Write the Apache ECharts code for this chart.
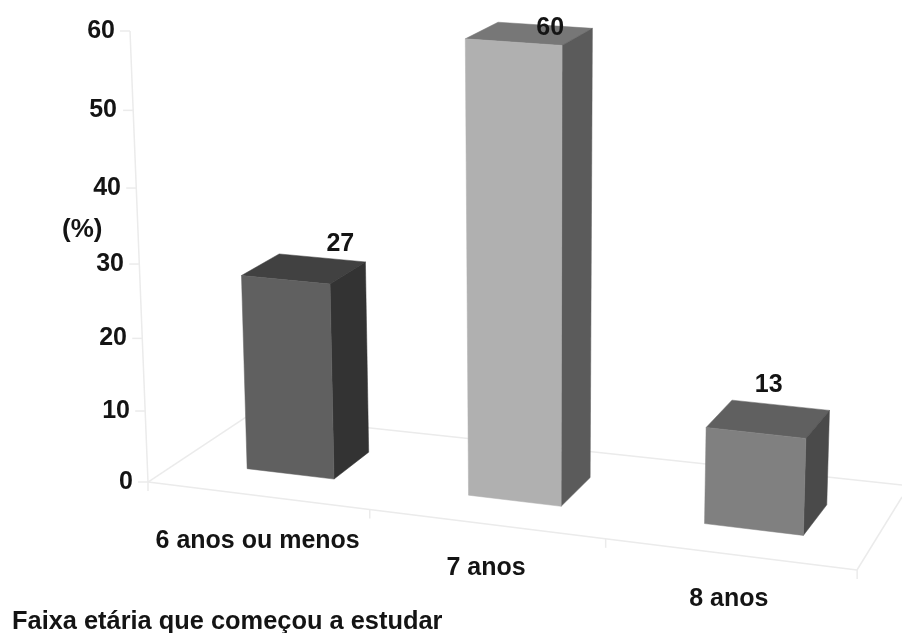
<!DOCTYPE html>
<html>
<head>
<meta charset="utf-8">
<style>html,body{margin:0;padding:0;background:#fff}#chart{width:902px;height:633px}</style>
<script src="https://cdn.jsdelivr.net/npm/echarts@6/dist/echarts.min.js"></script>
</head>
<body>
<div id="chart"></div>
<script>
// Chart content
const categories = ['6 anos ou menos', '7 anos', '8 anos'];
const percentages = [27, 60, 13];
const yTicks = [0, 10, 20, 30, 40, 50, 60];
const yUnit = '(%)';
const heading = 'Faixa etária que começou a estudar';

// Bar shading: front, side, top
const barShades = [
  ['#606060', '#333333', '#414141'],
  ['#b0b0b0', '#5b5b5b', '#777777'],
  ['#808080', '#4a4a4a', '#606060']
];
// Value label displacement from the middle of each bar's rear top edge
const labelShift = [[18, -14], [5, 3], [-12, -20]];
// Room for the slanted tick labels and staggered category labels
const yLabelPad = [0, 3, 6, 9, 12, 16, 18];
const xLabelPad = [[0, 17], [54, 33], [116, 20]];

const GRID = { left: 148, right: 857, top: 31, bottom: 482 };
const FRAME_COLOR = '#ebebeb';
const TEXT = '#141414';
const FONT = '"Liberation Sans", Arial, sans-serif';

// Foreshortening of the vertical scale: upper values take slightly more room
const A = 0.933;
const warp = v => { const t = v / 60; return 60 * (A * t + (1 - A) * t * t); };

// Floor perspective: s runs along the front edge, d runs into the depth
const floorPoint = (s, d) => {
  const w = 1 - 0.09 * s;
  const fx = (GRID.left + 632 * s) / w;
  const fy = GRID.bottom + 0.1241 * (fx - GRID.left);
  return [fx + d * (92 - 40 * s), fy + d * (-61 - 13 * s)];
};
// Raise a floor point by a scale height in pixels
const raise = (p, h) => {
  const scaled = h * (1 + 0.0009 * (p[1] - GRID.bottom));
  return [p[0] + (p[0] - 540) * 0.0001 * scaled, p[1] - scaled];
};

const poly = (points, fill, z2) => ({
  type: 'polygon', z2,
  shape: { points },
  style: { fill, stroke: fill, lineWidth: 0.5 }
});
const seg = (a, b) => ({
  type: 'line',
  shape: { x1: a[0], y1: a[1], x2: b[0], y2: b[1] },
  style: { stroke: FRAME_COLOR, lineWidth: 1.5 }
});

// Wall, floor outline and tick stubs
function renderFrame(params, api) {
  const children = [];
  const FL = [GRID.left, GRID.bottom];
  const FR = [GRID.right, 570];
  children.push(seg(FL, [130, GRID.top]));
  children.push(seg(FL, FR));
  children.push(seg(FL, [249, 415]));
  children.push(seg([249, 415], [902, 485]));
  children.push(seg(FR, [902, 497]));
  yTicks.forEach(v => {
    const y = api.coord([0, warp(v)])[1];
    const x = GRID.left - (GRID.bottom - y) * 0.04;
    children.push(seg([x, y], [x - 10, y]));
  });
  [0, 1 / 3, 2 / 3, 1].forEach(s => {
    const p = floorPoint(s, 0);
    children.push(seg(p, [p[0], p[1] + 9]));
  });
  return { type: 'group', children };
}

// One projected block per category, with its value above it
function renderBar(params, api) {
  const i = api.value(0);
  const v = api.value(1);
  const origin = api.coord([i, 0]);
  const top = api.coord([i, warp(v)]);
  const h = origin[1] - top[1];
  const s = (origin[0] - GRID.left) / (GRID.right - GRID.left) + 0.005;
  const half = (1 / 3) * 0.4 / 2;
  const D0 = 0.35, D1 = 0.77;

  const fl = floorPoint(s - half, D0), fr = floorPoint(s + half, D0);
  const br = floorPoint(s + half, D1), bl = floorPoint(s - half, D1);
  const tfl = raise(fl, h), tfr = raise(fr, h), tbr = raise(br, h), tbl = raise(bl, h);
  const shade = barShades[i];
  const shift = labelShift[i];

  return {
    type: 'group',
    children: [
      poly([tfl, tfr, tbr, tbl], shade[2], 1),
      poly([tfr, tbr, br, fr], shade[1], 1),
      poly([tfl, tfr, fr, fl], shade[0], 2),
      {
        type: 'text', z2: 5,
        style: {
          x: (tbl[0] + tbr[0]) / 2 + shift[0],
          y: (tbl[1] + tbr[1]) / 2 + shift[1],
          text: String(v),
          fill: TEXT,
          fontFamily: FONT, fontWeight: 'bold', fontSize: 25,
          align: 'center',
          verticalAlign: 'middle'
        }
      }
    ]
  };
}

const chart = echarts.init(document.getElementById('chart'), null, { renderer: 'canvas' });

const yRich = {};
yTicks.forEach((t, i) => {
  yRich['t' + i] = {
    padding: [0, yLabelPad[i], 0, 0],
    fontFamily: FONT, fontWeight: 'bold', fontSize: 25, color: TEXT
  };
});
const xRich = {};
categories.forEach((c, i) => {
  xRich['c' + i] = {
    padding: [xLabelPad[i][0], xLabelPad[i][1], 0, 0],
    fontFamily: FONT, fontWeight: 'bold', fontSize: 25, color: TEXT, lineHeight: 28
  };
});

chart.setOption({
  backgroundColor: '#ffffff',
  animation: false,
  title: {
    text: heading, left: 7, top: 604,
    textStyle: { fontFamily: FONT, fontWeight: 'bold', fontSize: 25.4, color: TEXT }
  },
  grid: {
    left: GRID.left, top: GRID.top,
    width: GRID.right - GRID.left, height: GRID.bottom - GRID.top,
    containLabel: false
  },
  graphic: [{
    type: 'text', left: 62, top: 217,
    style: { text: yUnit, fontFamily: FONT, fontWeight: 'bold', fontSize: 26, fill: TEXT }
  }],
  xAxis: {
    type: 'category',
    data: categories,
    axisLine: { show: false },
    axisTick: { show: false },
    splitLine: { show: false },
    axisLabel: {
      margin: 45,
      interval: 0,
      verticalAlign: 'top',
      formatter: (value, index) => '{c' + index + '|' + value + '}',
      rich: xRich
    }
  },
  yAxis: {
    type: 'value',
    min: 0, max: 60,
    axisLine: { show: false },
    axisTick: { show: false },
    splitLine: { show: false },
    axisLabel: {
      margin: 15,
      customValues: yTicks.map(warp),
      formatter: value => {
        const i = yTicks.findIndex(t => Math.abs(warp(t) - value) < 1e-6);
        return '{t' + i + '|' + yTicks[i] + '}';
      },
      rich: yRich
    }
  },
  series: [
    {
      type: 'custom', coordinateSystem: 'cartesian2d', clip: false, silent: true,
      z: 1,
      data: [[0, 0]],
      renderItem: renderFrame
    },
    {
      type: 'custom', coordinateSystem: 'cartesian2d', clip: false, silent: true,
      z: 2,
      encode: { x: 0, y: 1 },
      data: percentages.map((v, i) => [i, v]),
      renderItem: renderBar
    }
  ]
});
</script>
</body>
</html>
